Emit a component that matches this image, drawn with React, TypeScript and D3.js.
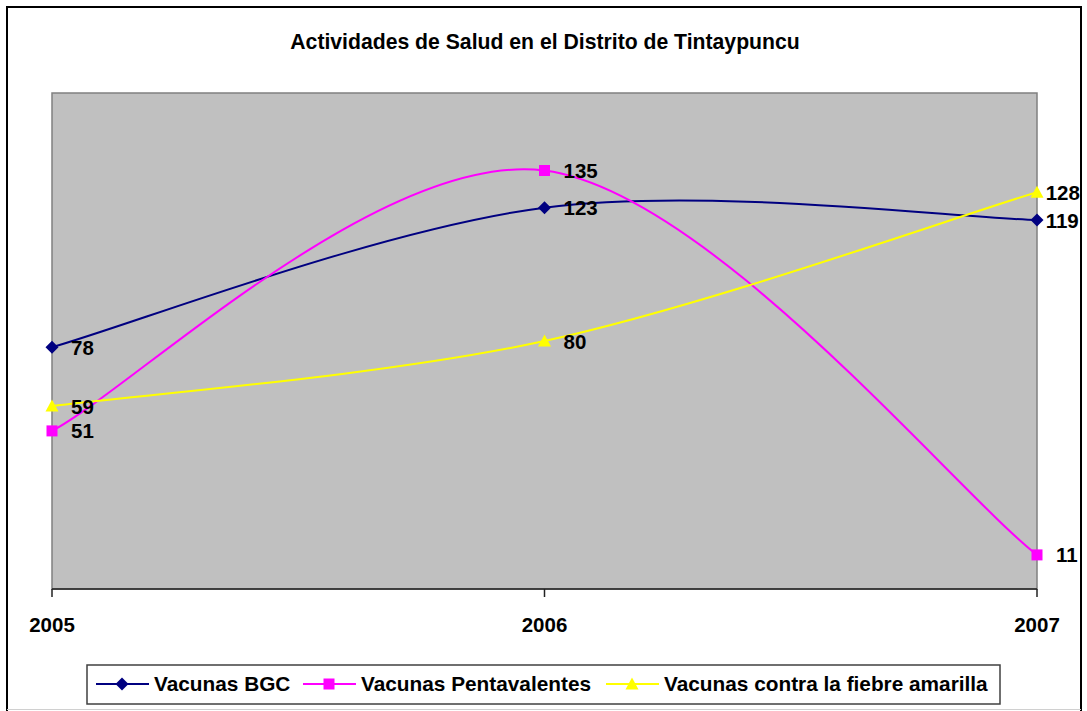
import React from "react";
import * as d3 from "d3";

// categories and series
const years = ["2005", "2006", "2007"];
const bgc = [78, 123, 119];
const pentavalentes = [51, 135, 11];
const fiebreAmarilla = [59, 80, 128];
const seriesNames = [
  "Vacunas BGC",
  "Vacunas Pentavalentes",
  "Vacunas contra la fiebre amarilla",
];
const yDomain = [0, 160];

const W = 1087;
const H = 711;
const FONT = "Arial, 'Liberation Sans', sans-serif";

const plot = { left: 52, right: 1037, top: 93, bottom: 589 };

const x = d3.scalePoint<string>().domain(years).range([plot.left, plot.right]);
const y = d3.scaleLinear().domain(yDomain).range([plot.bottom, plot.top]);

// Excel style smoothing: bezier, control points at 1/6 of the neighbour chord,
// ends use the end point itself as the missing neighbour
function excelCurve(context: any) {
  let pts: [number, number][] = [];
  return {
    areaStart() {},
    areaEnd() {},
    lineStart() {
      pts = [];
    },
    point(px: number, py: number) {
      pts.push([+px, +py]);
    },
    lineEnd() {
      const n = pts.length;
      if (!n) return;
      context.moveTo(pts[0][0], pts[0][1]);
      for (let i = 0; i < n - 1; i++) {
        const p0 = pts[Math.max(i - 1, 0)];
        const p1 = pts[i];
        const p2 = pts[i + 1];
        const p3 = pts[Math.min(i + 2, n - 1)];
        context.bezierCurveTo(
          p1[0] + (p2[0] - p0[0]) / 6,
          p1[1] + (p2[1] - p0[1]) / 6,
          p2[0] - (p3[0] - p1[0]) / 6,
          p2[1] - (p3[1] - p1[1]) / 6,
          p2[0],
          p2[1]
        );
      }
    },
  };
}

const line = d3
  .line<number>()
  .x((_, i) => x(years[i]) as number)
  .y(d => y(d))
  .curve(excelCurve as any);

type Shape = "diamond" | "square" | "triangle";

function marker(shape: Shape, cx: number, cy: number, color: string, key: string) {
  if (shape === "diamond") {
    const r = 6.5;
    return (
      <path
        key={key}
        d={`M${cx},${cy - r}L${cx + r},${cy}L${cx},${cy + r}L${cx - r},${cy}Z`}
        fill={color}
      />
    );
  }
  if (shape === "square") {
    const r = 5.5;
    return <rect key={key} x={cx - r} y={cy - r} width={r * 2} height={r * 2} fill={color} />;
  }
  const r = 6.5;
  return (
    <path
      key={key}
      d={`M${cx},${cy - r}L${cx + r},${cy + r - 1}L${cx - r},${cy + r - 1}Z`}
      fill={color}
    />
  );
}

const series = [
  { name: seriesNames[0], values: bgc, color: "#000080", shape: "diamond" as Shape },
  { name: seriesNames[1], values: pentavalentes, color: "#FF00FF", shape: "square" as Shape },
  { name: seriesNames[2], values: fiebreAmarilla, color: "#FFFF00", shape: "triangle" as Shape },
];

// legend layout
const legendBox = { x: 87, y: 665, w: 913, h: 39 };
const legendItemX = [96, 303, 606];

function labelX(px: number, v: number) {
  const fs = 20;
  const w = String(v).length * 0.556 * fs;
  return Math.min(px + 19, 1079 - w);
}

export default function App() {
  return (
    <svg
      width={W}
      height={H}
      style={{ position: "absolute", left: 0, top: 0, background: "#fff" }}
      fontFamily={FONT}
    >
      {/* chart border */}
      <line x1={7} y1={7} x2={1081} y2={7} stroke="#000" strokeWidth={2} />
      <line x1={7} y1={6} x2={7} y2={711} stroke="#000" strokeWidth={2} />
      <line x1={1081} y1={6} x2={1081} y2={711} stroke="#000" strokeWidth={2} />
      <line x1={7} y1={709.5} x2={1081} y2={709.5} stroke="#d0d0d0" strokeWidth={1} />

      {/* title */}
      <text x={545} y={49} textAnchor="middle" fontSize={21.2} fontWeight="bold">
        Actividades de Salud en el Distrito de Tintaypuncu
      </text>

      {/* plot area */}
      <rect
        x={plot.left}
        y={plot.top}
        width={plot.right - plot.left}
        height={plot.bottom - plot.top}
        fill="#C0C0C0"
        stroke="#808080"
        strokeWidth={1.5}
      />
      <line x1={plot.left} y1={plot.bottom} x2={plot.right} y2={plot.bottom} stroke="#222" strokeWidth={1.5} />
      {years.map(yr => (
        <g key={yr}>
          <line
            x1={x(yr)}
            x2={x(yr)}
            y1={plot.bottom}
            y2={plot.bottom + 8}
            stroke="#222"
            strokeWidth={1.5}
          />
          <text x={x(yr)} y={632} textAnchor="middle" fontSize={20.5} fontWeight="bold">
            {yr}
          </text>
        </g>
      ))}

      {/* lines */}
      {series.map(s => (
        <path key={s.name} d={line(s.values) || ""} fill="none" stroke={s.color} strokeWidth={2} />
      ))}
      {series.map(s =>
        s.values.map((v, i) => marker(s.shape, x(years[i]) as number, y(v), s.color, s.name + i))
      )}
      {series.map(s =>
        s.values.map((v, i) => {
          const px = x(years[i]) as number;
          return (
            <text
              key={s.name + "l" + i}
              x={labelX(px, v)}
              y={y(v) + 7.5}
              fontSize={20.5}
              fontWeight="bold"
            >
              {v}
            </text>
          );
        })
      )}

      {/* legend */}
      <rect
        x={legendBox.x}
        y={legendBox.y}
        width={legendBox.w}
        height={legendBox.h}
        fill="#fff"
        stroke="#404040"
        strokeWidth={1.5}
      />
      {series.map((s, i) => {
        const lx = legendItemX[i];
        const cy = 684;
        return (
          <g key={s.name}>
            <line x1={lx} x2={lx + 53} y1={cy} y2={cy} stroke={s.color} strokeWidth={2} />
            {marker(s.shape, lx + 26, cy, s.color, "m" + i)}
            <text x={lx + 58} y={691} fontSize={20.8} fontWeight="bold">
              {s.name}
            </text>
          </g>
        );
      })}
    </svg>
  );
}
